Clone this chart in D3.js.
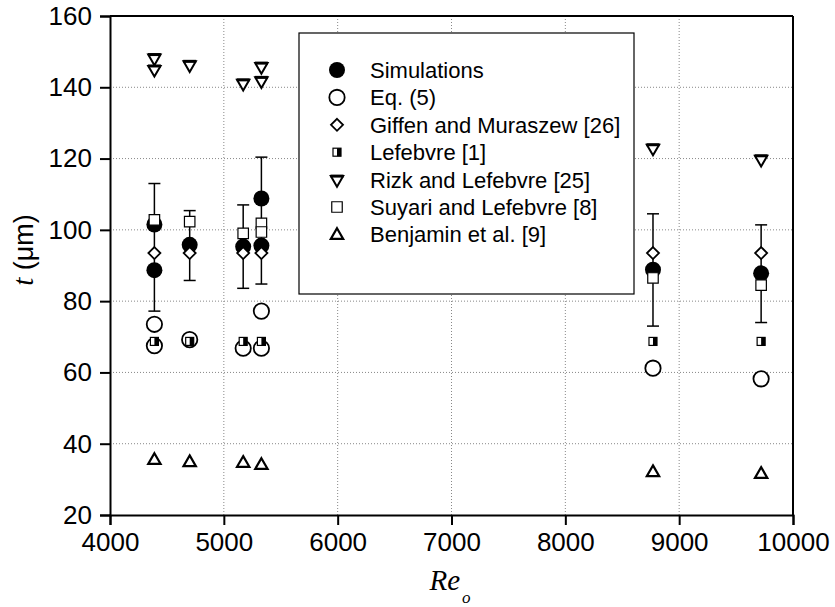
<!DOCTYPE html>
<html>
<head>
<meta charset="utf-8">
<script src="https://cdn.jsdelivr.net/npm/d3@7"></script>
<style>
  body { margin: 0; background: #fff; }
  .tick text { font-family: Arial, "Liberation Sans", sans-serif; font-size: 26px; fill: #000; }
  .legend-text { font-family: Arial, "Liberation Sans", sans-serif; font-size: 22px; }
</style>
</head>
<body>
<div id="chart"></div>
<script>
// tick labels
var xTicks = [4000, 5000, 6000, 7000, 8000, 9000, 10000];
var yTicks = [20, 40, 60, 80, 100, 120, 140, 160];

// series (Re_o, t in um)
var simRe = [4390, 4390, 4700, 5170, 5330, 5330, 8770, 9720];
var simT  = [101.5, 88.7, 95.8, 95.3, 108.8, 95.6, 88.8, 87.8];

var errRe   = [4390, 4700, 5170, 5330, 8770, 9720];
var errLow  = [77.2, 85.8, 83.6, 84.8, 73.0, 74.0];
var errHigh = [113.0, 105.4, 107.0, 120.4, 104.5, 101.4];

var eqRe = [4390, 4390, 4700, 5170, 5330, 5330, 8770, 9720];
var eqT  = [73.5, 67.5, 69.2, 66.8, 77.2, 66.8, 61.2, 58.2];

var giffenRe = [4390, 4700, 5170, 5330, 8770, 9720];
var giffenT  = [93.5, 93.5, 93.5, 93.5, 93.5, 93.5];

var lefRe = [4390, 4700, 5170, 5330, 8770, 9720];
var lefT  = [68.7, 68.7, 68.7, 68.7, 68.7, 68.7];

var rizkRe = [4390, 4390, 4700, 5170, 5330, 5330, 8770, 9720];
var rizkT  = [148.2, 145.0, 146.3, 141.1, 145.8, 141.8, 122.9, 119.8];

var suyRe = [4390, 4700, 5170, 5330, 5330, 8770, 9720];
var suyT  = [102.8, 102.3, 99.0, 101.8, 99.4, 86.5, 84.5];

var benRe = [4390, 4700, 5170, 5330, 8770, 9720];
var benT  = [35.6, 35.0, 34.8, 34.2, 32.2, 31.7];

var legendLabels = ["Simulations", "Eq. (5)", "Giffen and Muraszew [26]", "Lefebvre [1]",
                    "Rizk and Lefebvre [25]", "Suyari and Lefebvre [8]", "Benjamin et al. [9]"];

var margin = {top: 16, right: 42, bottom: 92, left: 110},
    width = 835 - margin.left - margin.right,
    height = 607 - margin.top - margin.bottom;

var svg = d3.select("#chart")
  .append("svg")
    .attr("width", 835)
    .attr("height", 607)
  .append("g")
    .attr("transform", "translate(" + margin.left + "," + margin.top + ")");

var x = d3.scaleLinear().domain([4000, 10000]).range([0, width]);
var y = d3.scaleLinear().domain([20, 160]).range([height, 0]);

// grid
svg.append("g")
  .selectAll("line")
  .data(xTicks.slice(1, -1))
  .enter().append("line")
    .attr("x1", d => x(d)).attr("x2", d => x(d))
    .attr("y1", 0).attr("y2", height)
    .attr("stroke", "#888").attr("stroke-width", 1).attr("stroke-dasharray", "1,2");

svg.append("g")
  .selectAll("line")
  .data(yTicks.slice(1, -1))
  .enter().append("line")
    .attr("x1", 0).attr("x2", width)
    .attr("y1", d => y(d)).attr("y2", d => y(d))
    .attr("stroke", "#888").attr("stroke-width", 1).attr("stroke-dasharray", "1,2");

// axes
var xAxis = svg.append("g")
  .attr("transform", "translate(0," + height + ")")
  .call(d3.axisBottom(x).tickValues(xTicks).tickFormat(d3.format("d")).tickSize(10).tickPadding(8));

var yAxis = svg.append("g")
  .call(d3.axisLeft(y).tickValues(yTicks).tickSize(10).tickPadding(8));

[xAxis, yAxis].forEach(a => {
  a.select(".domain").attr("stroke-width", 2);
  a.selectAll(".tick line").attr("stroke-width", 2);
});

// top and right frame
svg.append("line").attr("x1", 0).attr("x2", width).attr("y1", 0).attr("y2", 0)
  .attr("stroke", "#000").attr("stroke-width", 2);
svg.append("line").attr("x1", width).attr("x2", width).attr("y1", 0).attr("y2", height)
  .attr("stroke", "#000").attr("stroke-width", 2);

// axis titles
var yTitle = svg.append("text")
  .attr("transform", "translate(" + (33 - margin.left) + "," + (250 - margin.top) + ") rotate(-90)")
  .attr("text-anchor", "middle");
yTitle.append("tspan")
  .style("font-family", "'Liberation Serif', 'Times New Roman', serif")
  .style("font-style", "italic").style("font-size", "29px").text("t");
yTitle.append("tspan")
  .style("font-family", "Arial, 'Liberation Sans', sans-serif")
  .style("font-size", "27px").text(" (\u03BCm)");

var xTitle = svg.append("text")
  .attr("x", 450 - margin.left)
  .attr("y", 590 - margin.top)
  .attr("text-anchor", "middle")
  .style("font-family", "'Liberation Serif', 'Times New Roman', serif")
  .style("font-style", "italic");
xTitle.append("tspan").style("font-size", "29px").text("Re");
xTitle.append("tspan").attr("dx", 2).attr("dy", 13).style("font-size", "17px").text("o");

// symbol helpers
function pts(re, t) { return re.map((d, i) => ({re: d, t: t[i]})); }

var symCircleFilled = d3.symbol().type(d3.symbolCircle).size(201);
var symCircleOpen = d3.symbol().type(d3.symbolCircle).size(185);
var symDiamond = d3.symbol().type(d3.symbolDiamond2).size(92);
var symTri = d3.symbol().type(d3.symbolTriangle).size(66);
var symSquare = d3.symbol().type(d3.symbolSquare).size(110);

var styles = [
  {draw: g => g.append("path").attr("d", symCircleFilled()).attr("fill", "#000")},
  {draw: g => g.append("path").attr("d", symCircleOpen()).attr("fill", "#fff").attr("stroke", "#000").attr("stroke-width", 1.8)},
  {draw: g => g.append("path").attr("d", symDiamond()).attr("fill", "#fff").attr("stroke", "#000").attr("stroke-width", 1.8)},
  {draw: g => {
    g.append("rect").attr("x", -4).attr("y", -4).attr("width", 8).attr("height", 8)
      .attr("fill", "#fff").attr("stroke", "#000").attr("stroke-width", 1.2);
    g.append("rect").attr("x", 0).attr("y", -4).attr("width", 4).attr("height", 8).attr("fill", "#000");
  }},
  {draw: g => {
    g.append("path").attr("d", symTri()).attr("transform", "rotate(180)")
      .attr("fill", "#fff").attr("stroke", "#000").attr("stroke-width", 2);
    g.append("rect").attr("x", -6.5).attr("y", -5).attr("width", 13).attr("height", 3).attr("fill", "#000");
  }},
  {draw: g => g.append("path").attr("d", symSquare()).attr("fill", "#fff").attr("stroke", "#000").attr("stroke-width", 1.2)},
  {draw: g => g.append("path").attr("d", symTri()).attr("transform", "translate(0,1)")
      .attr("fill", "#fff").attr("stroke", "#000").attr("stroke-width", 2.2)}
];

function plotSeries(data, style) {
  svg.append("g")
    .selectAll("g")
    .data(data)
    .enter().append("g")
      .attr("transform", d => "translate(" + x(d.re) + "," + y(d.t) + ")")
      .each(function () { style.draw(d3.select(this)); });
}

// simulations
plotSeries(pts(simRe, simT), styles[0]);

// error bars
var eb = svg.append("g").attr("stroke", "#000").attr("stroke-width", 1.5)
  .selectAll("g").data(errRe.map((d, i) => ({re: d, lo: errLow[i], hi: errHigh[i]})))
  .enter().append("g");
eb.append("line").attr("x1", d => x(d.re)).attr("x2", d => x(d.re))
  .attr("y1", d => y(d.lo)).attr("y2", d => y(d.hi));
eb.append("line").attr("x1", d => x(d.re) - 6).attr("x2", d => x(d.re) + 6)
  .attr("y1", d => y(d.lo)).attr("y2", d => y(d.lo));
eb.append("line").attr("x1", d => x(d.re) - 6).attr("x2", d => x(d.re) + 6)
  .attr("y1", d => y(d.hi)).attr("y2", d => y(d.hi));

plotSeries(pts(eqRe, eqT), styles[1]);
plotSeries(pts(giffenRe, giffenT), styles[2]);
plotSeries(pts(lefRe, lefT), styles[3]);
plotSeries(pts(rizkRe, rizkT), styles[4]);
plotSeries(pts(suyRe, suyT), styles[5]);
plotSeries(pts(benRe, benT), styles[6]);

// legend
var lg = svg.append("g").attr("transform", "translate(" + (299 - margin.left) + "," + (33 - margin.top) + ")");
lg.append("rect").attr("width", 335).attr("height", 261)
  .attr("fill", "#fff").attr("stroke", "#000").attr("stroke-width", 1.2);

legendLabels.forEach((lab, i) => {
  var row = lg.append("g").attr("transform", "translate(0," + (37 + i * 27.4) + ")");
  var s = row.append("g").attr("transform", "translate(38,0)");
  styles[i].draw(s);
  row.append("text").attr("class", "legend-text").attr("x", 71).attr("y", 8).text(lab);
});
</script>
</body>
</html>
